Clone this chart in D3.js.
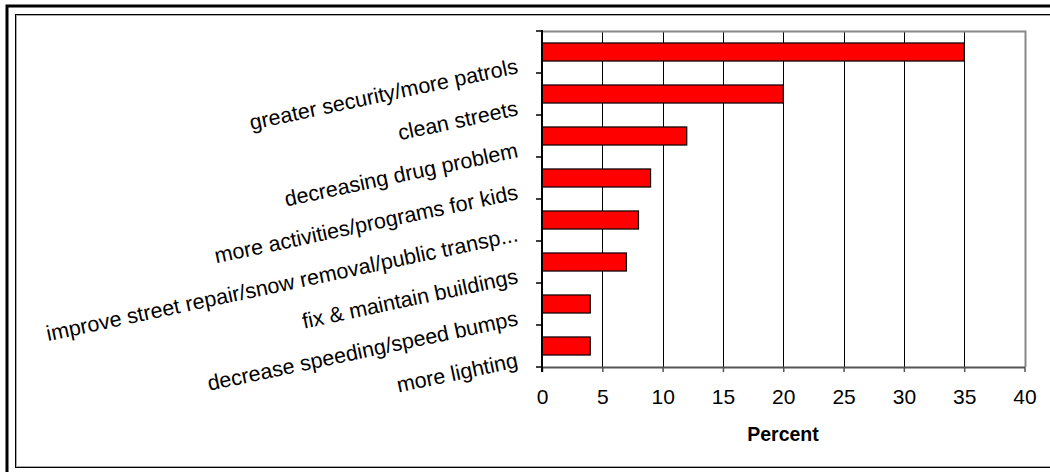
<!DOCTYPE html>
<html>
  <head>
    <meta charset="utf-8">
    <style>
    body { margin: 0; background: #fff; }
    svg { display: block; }
    text { font-family: Arial, "Liberation Sans", sans-serif; fill: #000; }
    </style>
  </head>
  <body>
    <div id="chart"></div>
    <script src="https://d3js.org/d3.v7.min.js"></script>
    <script>

// data
var categories = [
  "greater security/more patrols",
  "clean streets",
  "decreasing drug problem",
  "more activities/programs for kids",
  "improve street repair/snow removal/public transp...",
  "fix & maintain buildings",
  "decrease speeding/speed bumps",
  "more lighting"
];
var percents = [35, 20, 12, 9, 8, 7, 4, 4];
var xTicks = [0, 5, 10, 15, 20, 25, 30, 35, 40];
var xTitle = "Percent";

var width = 1050, height = 472;

var svg = d3.select("#chart").append("svg")
    .attr("width", width)
    .attr("height", height);

// frame: thick outer line, thin inner line (runs off right + bottom)
svg.append("rect")
    .attr("x", 7).attr("y", 6)
    .attr("width", 1100).attr("height", 600)
    .style("fill", "none").style("stroke", "#000").style("stroke-width", 3);
svg.append("rect")
    .attr("x", 15.5).attr("y", 14.5)
    .attr("width", 1100).attr("height", 453)
    .style("fill", "none").style("stroke", "#000").style("stroke-width", 1);
svg.append("rect")
    .attr("x", 16.5).attr("y", 15.5)
    .attr("width", 1100).attr("height", 451)
    .style("fill", "none").style("stroke", "#aaa").style("stroke-width", 1);

var x = d3.scaleLinear()
    .domain([0, 40])
    .range([542, 1024.5]);

var y = d3.scaleBand()
    .domain(categories)
    .range([31, 367])
    .paddingInner(0.57)
    .paddingOuter(0.285);

var yTop = 31, yBot = 367;

// gridlines
svg.append("g")
    .selectAll("line")
    .data(xTicks.filter(function(d){ return d > 0 && d < 40; }))
  .enter().append("line")
    .attr("x1", function(d){ return Math.round(x(d)) + 0.5; })
    .attr("x2", function(d){ return Math.round(x(d)) + 0.5; })
    .attr("y1", yTop).attr("y2", yBot)
    .style("stroke", "#000").style("stroke-width", 1);

// plot border top + right (grey)
svg.append("path")
    .attr("d", "M" + (x(0)) + "," + (yTop + 0.5) + "H" + (Math.round(x(40)) + 0.5) + "V" + yBot)
    .style("fill", "none").style("stroke", "#888").style("stroke-width", 2);

// bars
svg.append("g")
    .selectAll("rect")
    .data(percents)
  .enter().append("rect")
    .attr("x", x(0))
    .attr("y", function(d, i){ return y(categories[i]); })
    .attr("width", function(d){ return x(d) - x(0); })
    .attr("height", y.bandwidth())
    .style("fill", "#ff0000")
    .style("stroke", "#000")
    .style("stroke-width", 1.2);

// x axis
var xAxis = svg.append("g")
    .attr("transform", "translate(0," + yBot + ")")
    .call(d3.axisBottom(x).tickValues(xTicks).tickSize(5).tickPadding(17).tickSizeOuter(0));
xAxis.select(".domain").style("stroke", "#555").style("stroke-width", 2);
xAxis.selectAll(".tick line").style("stroke", "#555").style("stroke-width", 1.5);
xAxis.selectAll(".tick text")
    .style("font-size", "21px")
    .style("font-family", "Arial, 'Liberation Sans', sans-serif");

svg.append("text")
    .attr("x", 783)
    .attr("y", 441)
    .attr("text-anchor", "middle")
    .style("font-size", "19.5px")
    .style("font-weight", "bold")
    .text(xTitle);

// y axis line + ticks at band edges
var edges = d3.range(categories.length + 1).map(function(i){
  return yTop + i * (yBot - yTop) / categories.length;
});
svg.append("line")
    .attr("x1", x(0)).attr("x2", x(0))
    .attr("y1", yTop - 1).attr("y2", yBot + 5)
    .style("stroke", "#000").style("stroke-width", 2);
svg.append("g")
    .selectAll("line")
    .data(edges)
  .enter().append("line")
    .attr("x1", x(0) - 6).attr("x2", x(0))
    .attr("y1", function(d){ return d; })
    .attr("y2", function(d){ return d; })
    .style("stroke", "#000").style("stroke-width", 1.5);

// rotated category labels
svg.append("g")
    .selectAll("text")
    .data(categories)
  .enter().append("text")
    .attr("text-anchor", "end")
    .attr("transform", function(d){
      var cx = x(0) - 23, cy = y(d) + y.bandwidth() / 2 + 21;
      return "translate(" + cx + "," + cy + ") rotate(-12)";
    })
    .style("font-size", "21.5px")
    .text(function(d){ return d; });

    </script>
  </body>
</html>
